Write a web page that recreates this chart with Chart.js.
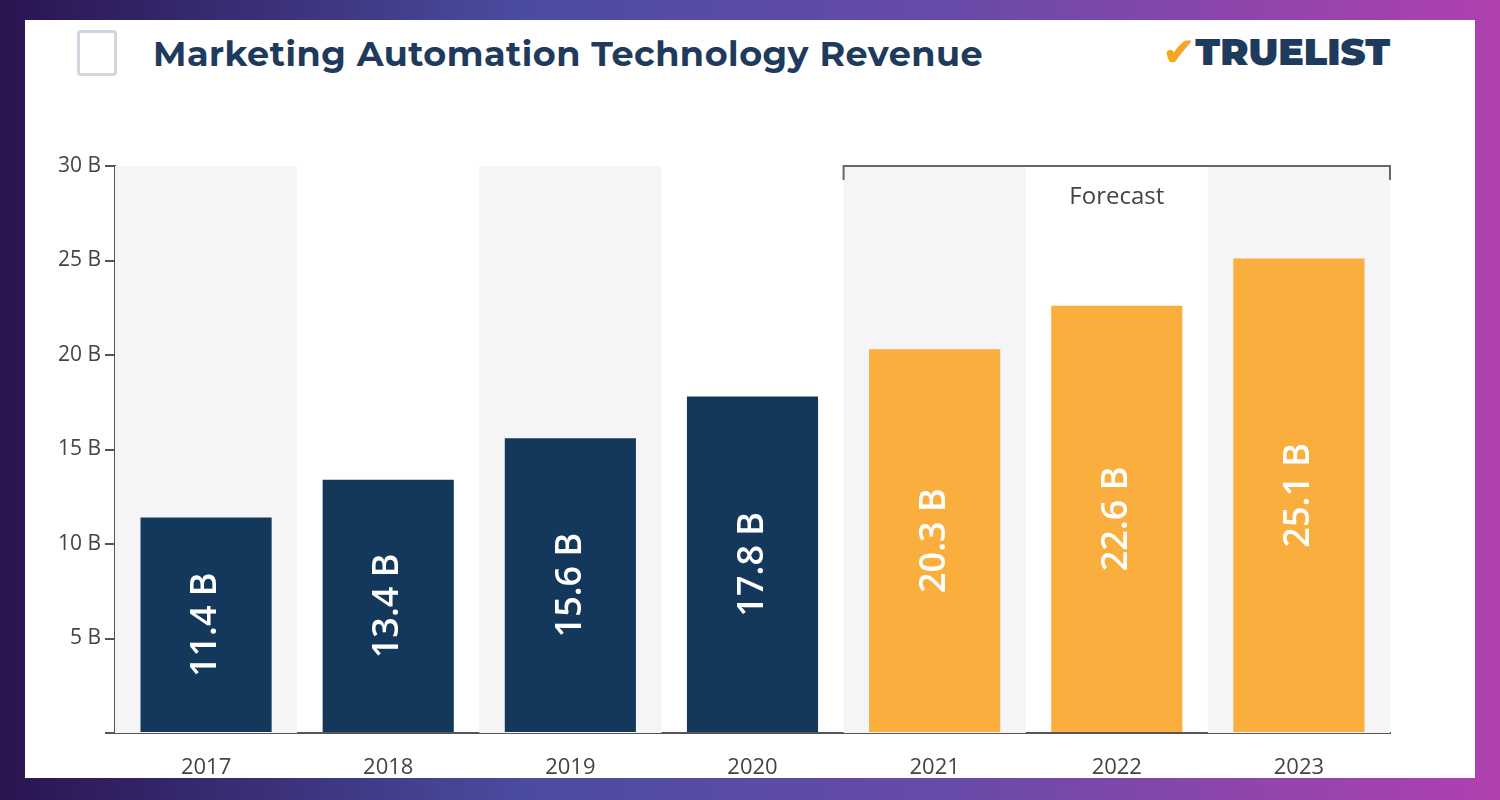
<!DOCTYPE html>
<html>
<head>
<meta charset="utf-8">
<script src="https://cdn.jsdelivr.net/npm/chart.js@4/dist/chart.umd.min.js"></script>
<style>
  html, body { margin: 0; width: 1500px; height: 800px; overflow: hidden; }
  body { background: linear-gradient(90deg, #2a1450 0%, #4a4ca0 35%, #6a4aa8 65%, #b040b0 100%); position: relative; font-family: Montserrat, "Open Sans", sans-serif; }
  #panel { position: absolute; left: 25px; top: 20px; width: 1450px; height: 758px; background: #fff; overflow: hidden; }
  #title { position: absolute; left: 128px; top: 12px; font-size: 35px; font-weight: bold; color: #1e3a5c; letter-spacing: 0.5px; }
  #logo { position: absolute; right: 85px; top: 8px; font-size: 38px; font-weight: 900; color: #1e3a5c; }
  #logo span { color: #f5a623; }
  #icon { position: absolute; left: 52px; top: 10px; width: 40px; height: 46px; border: 3px solid #cfd6de; border-radius: 4px; box-sizing: border-box; }
  canvas { position: absolute; left: 0; top: 0; }
</style>
</head>
<body>
<div id="panel">
  <div id="icon"></div>
  <div id="title">Marketing Automation Technology Revenue</div>
  <div id="logo"><span>✔</span>TRUELIST</div>
  <canvas id="chart" width="1450" height="758"></canvas>
</div>
<script>
const years = ['2017', '2018', '2019', '2020', '2021', '2022', '2023'];
const revenue = [11.4, 13.4, 15.6, 17.8, 20.3, 22.6, 25.1];
const forecastFrom = 4;

const navy = '#14385c';
const orange = '#f9ae3d';

// shaded columns, forecast bracket and rotated value labels
const decor = {
    id: 'decor',
    beforeDatasetsDraw(chart) {
        const { ctx, chartArea, scales: { x } } = chart;
        const w = x.getPixelForValue(1) - x.getPixelForValue(0);
        ctx.save();
        ctx.fillStyle = '#f5f5f7';
        years.forEach((y, i) => {
            if (i % 2 === 0) {
                const c = x.getPixelForValue(i);
                ctx.fillRect(c - w / 2, chartArea.top, w, chartArea.bottom - chartArea.top);
            }
        });
        ctx.restore();
    },
    afterDatasetsDraw(chart) {
        const { ctx, chartArea, scales: { x } } = chart;
        const w = x.getPixelForValue(1) - x.getPixelForValue(0);
        const meta = chart.getDatasetMeta(0);
        ctx.save();
        // bracket
        const x0 = x.getPixelForValue(forecastFrom) - w / 2;
        const x1 = x.getPixelForValue(years.length - 1) + w / 2;
        const t = chartArea.top;
        ctx.strokeStyle = '#666';
        ctx.lineWidth = 2;
        ctx.beginPath();
        ctx.moveTo(x0, t + 14); ctx.lineTo(x0, t); ctx.lineTo(x1, t); ctx.lineTo(x1, t + 14);
        ctx.stroke();
        ctx.fillStyle = '#444';
        ctx.font = '24px "Open Sans", sans-serif';
        ctx.textAlign = 'center';
        ctx.textBaseline = 'middle';
        ctx.fillText('Forecast', (x0 + x1) / 2, t + 31);
        // value labels, centred in each bar
        ctx.fillStyle = '#fff';
        ctx.font = '600 36px "Open Sans", sans-serif';
        meta.data.forEach((bar, i) => {
            ctx.save();
            ctx.translate(bar.x, (bar.y + bar.base) / 2);
            ctx.rotate(-Math.PI / 2);
            ctx.fillText(revenue[i].toFixed(1) + ' B', 0, 0);
            ctx.restore();
        });
        ctx.restore();
    }
};

new Chart(document.getElementById('chart'), {
    type: 'bar',
    data: {
        labels: years,
        datasets: [{
            data: revenue,
            backgroundColor: revenue.map((v, i) => i >= forecastFrom ? orange : navy),
            barPercentage: 0.72,
            categoryPercentage: 1
        }]
    },
    options: {
        responsive: false,
        animation: false,
        layout: { padding: { top: 146, right: 85, left: 0, bottom: 0 } },
        plugins: { legend: { display: false }, tooltip: { enabled: false } },
        scales: {
            x: {
                grid: { display: false },
                border: { color: '#555', width: 2 },
                ticks: { color: '#444', font: { size: 22, family: '"Open Sans", sans-serif' }, padding: 14 },
                afterFit(s) { s.height = 45; }
            },
            y: {
                min: 0,
                max: 30,
                grid: { drawOnChartArea: false, tickLength: 10, color: '#555', lineWidth: 2 },
                border: { color: '#555', width: 2 },
                ticks: {
                    stepSize: 5,
                    color: '#444',
                    font: { size: 21, family: '"Open Sans", sans-serif' },
                    padding: 4,
                    callback: v => v === 0 ? '' : v + ' B'
                },
                afterFit(s) { s.width = 90; }
            }
        }
    },
    plugins: [decor]
});
</script>
</body>
</html>
